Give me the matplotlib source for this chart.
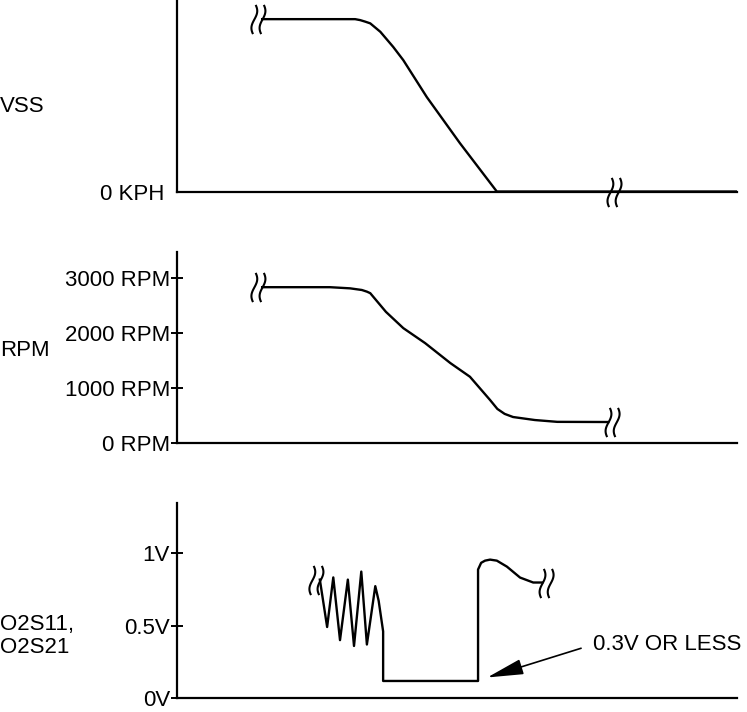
import numpy as np
import matplotlib
matplotlib.use("Agg")
import matplotlib.pyplot as plt
from matplotlib.path import Path

plt.rcParams["font.family"] = ["Liberation Sans", "DejaVu Sans"]
plt.rcParams["font.size"] = 16

# Data (time in arbitrary units 0..100)
vss_t = [15.2, 30.9, 31.8, 32.7, 33.6, 34.5, 36.3, 38.6, 40.4, 44.6, 50.5, 57.1, 100]
vss_v = [90, 90, 90, 89.5, 88.7, 87.8, 83.4, 75.5, 68.6, 49.3, 25.3, 0, 0]

rpm_t = [15.2, 27.3, 30.9, 33.0, 33.9, 34.5, 37.3, 40.4, 44.3, 48.8, 52.3, 55.9,
         57.2, 58.5, 60.0, 63.9, 67.9, 77.0]
rpm_v = [2836, 2836, 2815, 2785, 2755, 2727, 2387, 2091, 1818, 1455, 1206, 782,
         620, 530, 473, 418, 385, 382]

o2_t = [25.5, 26.8, 27.9, 29.1, 30.5, 31.6, 32.9, 33.9, 35.4, 36.0, 36.8,
        36.8, 53.75, 53.75, 54.3, 55.0, 55.9, 57.1, 58.9, 61.25, 63.6, 65.2]
o2_v = [0.815, 0.49, 0.83, 0.40, 0.815, 0.36, 0.87, 0.37, 0.77, 0.67, 0.46,
        0.12, 0.12, 0.884, 0.93, 0.945, 0.952, 0.945, 0.904, 0.829, 0.795, 0.795]

rpm_ticks = [0, 1000, 2000, 3000]
rpm_labels = ["0 RPM", "1000 RPM", "2000 RPM", "3000 RPM"]
o2_ticks = [0, 0.5, 1.0]
o2_labels = ["0V", "0.5V", "1V"]


def break_marker(shift):
    # two small S-shaped strokes (axis break symbol)
    s = np.linspace(-1, 1, 40)
    y = 0.5 * s
    x = 0.1 * np.sin(np.pi * 0.85 * s)
    verts, codes = [], []
    for dx in (shift - 0.14, shift + 0.14):
        pts = np.column_stack([x + dx, y])
        verts.extend(pts)
        codes.extend([Path.MOVETO] + [Path.LINETO] * (len(pts) - 1))
    return Path(np.array(verts), codes)


brk_start = break_marker(-0.14)
brk_end = break_marker(0.14)
brk_mid = break_marker(0.0)


def style_axes(ax):
    for side in ["top", "right"]:
        ax.spines[side].set_visible(False)
    for side in ["left", "bottom"]:
        ax.spines[side].set_linewidth(1.6)
    ax.set_xticks([])
    ax.set_xlim(0, 100)
    ax.tick_params(axis="y", direction="inout", length=8, width=1.4, pad=1)


fig = plt.figure(figsize=(7.47, 7.12), dpi=100)
left, width = 0.237, 0.7497
mk = dict(linestyle="", mfc="none", color="black", ms=21, mew=1.5)
ln = dict(color="black", lw=1.7, solid_joinstyle="round")

# VSS
ax1 = fig.add_axes([left, 0.731, width, 0.269])
style_axes(ax1)
ax1.plot(vss_t, vss_v, **ln)
ax1.set_ylim(0, 100)
ax1.set_yticks([0])
ax1.set_yticklabels(["0 KPH"])
ax1.tick_params(axis="y", length=0, pad=9)
ax1.plot(vss_t[0], vss_v[0], marker=brk_start, **mk)
ax1.plot(78.1, 0, marker=brk_mid, clip_on=False, **mk)

# RPM
ax2 = fig.add_axes([left, 0.3778, width, 0.268])
style_axes(ax2)
ax2.plot(rpm_t, rpm_v, **ln)
ax2.set_ylim(0, 3473)
ax2.set_yticks(rpm_ticks)
ax2.set_yticklabels(rpm_labels)
ax2.plot(rpm_t[0], rpm_v[0], marker=brk_start, **mk)
ax2.plot(rpm_t[-1], rpm_v[-1], marker=brk_end, **mk)

# O2 sensor
ax3 = fig.add_axes([left, 0.019, width, 0.2745])
style_axes(ax3)
ax3.plot(o2_t, o2_v, **ln)
ax3.set_ylim(0, 1.34)
ax3.set_yticks(o2_ticks)
ax3.set_yticklabels(o2_labels)
ax3.plot(o2_t[0], o2_v[0], marker=brk_start, **mk)
ax3.plot(o2_t[-1], o2_v[-1], marker=brk_end, **mk)
ax3.annotate("0.3V OR LESS", xy=(55.4, 0.144), xytext=(74.3, 0.37),
             ha="left", va="center",
             arrowprops=dict(arrowstyle="-|>,head_length=1.4,head_width=0.3",
                             color="black", lw=1.2, shrinkA=7, shrinkB=0,
                             relpos=(0, 0.5), mutation_scale=16))

# Row labels
fig.text(0.0, 1 - 107 / 712, "VSS", ha="left", va="center")
fig.text(0.0, 1 - 350 / 712, "RPM", ha="left", va="center")
fig.text(0.0, 1 - 636 / 712, "O2S11,\nO2S21", ha="left", va="center",
         linespacing=1.1)

fig.savefig("out.png", dpi=100)
